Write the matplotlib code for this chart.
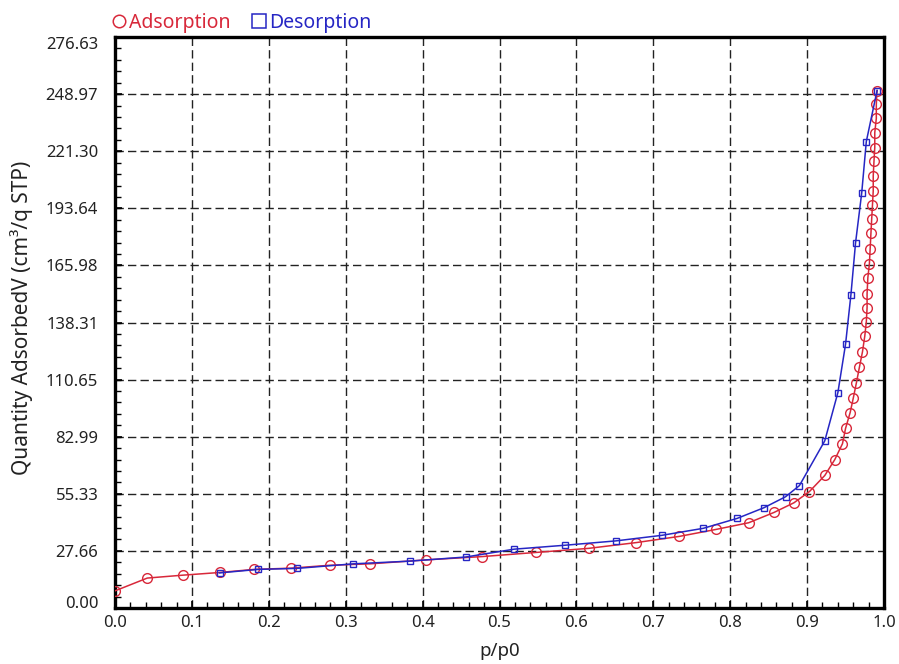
import matplotlib
matplotlib.use("Agg")
import matplotlib.pyplot as plt
from matplotlib.lines import Line2D
from matplotlib.ticker import MultipleLocator, AutoMinorLocator

plt.rcParams['font.family'] = ['Noto Sans', 'DejaVu Sans']

# ---- data ----
ads_x = [0.0, 0.042, 0.088, 0.136, 0.181, 0.229, 0.279, 0.332, 0.404, 0.477,
         0.547, 0.616, 0.678, 0.734, 0.782, 0.824, 0.857, 0.883, 0.903, 0.923,
         0.936, 0.946, 0.950, 0.956, 0.960, 0.964, 0.968, 0.972, 0.975, 0.977,
         0.978, 0.978, 0.979, 0.981, 0.982, 0.983, 0.984, 0.985, 0.986, 0.986,
         0.987, 0.988, 0.988, 0.990, 0.990, 0.991]
ads_v = [8.3, 14.5, 15.9, 17.2, 18.7, 19.3, 20.7, 21.4, 23.3, 24.9,
         26.9, 28.9, 31.7, 34.7, 38.1, 41.3, 46.3, 51.0, 56.4, 64.2,
         71.9, 79.6, 87.0, 94.7, 101.6, 108.9, 116.6, 124.1, 131.7, 138.6,
         145.5, 152.3, 160.0, 166.8, 174.0, 181.5, 188.5, 195.2, 202.1, 209.4,
         216.6, 223.0, 230.3, 237.2, 244.0, 250.7]

des_x = [0.991, 0.977, 0.971, 0.963, 0.957, 0.950, 0.940, 0.923, 0.890, 0.872,
         0.844, 0.809, 0.765, 0.711, 0.651, 0.585, 0.519, 0.456, 0.383, 0.310,
         0.237, 0.186, 0.136]
des_v = [250.7, 226.0, 201.0, 176.9, 151.8, 127.8, 104.3, 81.0, 59.3, 53.9,
         48.6, 43.4, 38.6, 35.2, 32.5, 30.4, 28.5, 24.7, 22.7, 21.4,
         19.2, 18.7, 17.0]

y_tick_labels = ['0.00', '27.66', '55.33', '82.99', '110.65', '138.31',
                 '165.98', '193.64', '221.30', '248.97', '276.63']
x_tick_labels = ['0.0', '0.1', '0.2', '0.3', '0.4', '0.5', '0.6', '0.7',
                 '0.8', '0.9', '1.0']
series_names = ['Adsorption', 'Desorption']

RED = '#d8283a'
BLUE = '#2626c4'
TXT = '#222222'

fig = plt.figure(figsize=(8.99, 6.64), dpi=100)
ax = fig.add_axes([115 / 899, 1 - 608 / 664, (884 - 115) / 899, (608 - 37) / 664])

ax.plot(ads_x, ads_v, color=RED, lw=1.1, marker='o', ms=7, mfc='none',
        mec=RED, mew=1.0, zorder=3)
ax.plot(des_x, des_v, color=BLUE, lw=1.1, marker='s', ms=4.5, mfc='none',
        mec=BLUE, mew=1.0, zorder=4)

yt = [float(s) for s in y_tick_labels]
xt = [float(s) for s in x_tick_labels]
ax.set_xlim(0, 1.0)
ax.set_ylim(0, yt[-1])
ax.set_xticks(xt)
ax.set_xticklabels(x_tick_labels)
ax.set_yticks(yt)
ax.set_yticklabels(y_tick_labels)
ax.xaxis.set_minor_locator(MultipleLocator(0.02))
ax.yaxis.set_minor_locator(AutoMinorLocator(5))

ax.tick_params(axis='both', which='both', direction='in', top=False, right=False,
               labelsize=12, labelcolor=TXT, color='black')
ax.tick_params(axis='both', which='major', length=5, width=1.2)
ax.tick_params(axis='both', which='minor', length=4, width=1.0)
ax.tick_params(axis='y', pad=12)
ax.tick_params(axis='x', pad=5)

ylabels = ax.get_yticklabels()
ylabels[0].set_va('baseline')
ylabels[-1].set_va('top')

for sp in ax.spines.values():
    sp.set_linewidth(2.4)
    sp.set_color('black')

ax.grid(True, which='major', color=TXT, lw=1.0, ls=(0, (6, 3)))
ax.set_axisbelow(True)

ax.set_xlabel('p/p0', fontsize=13.5, color=TXT, va='center')
ax.xaxis.set_label_coords(0.5, -0.075)
ax.set_ylabel('Quantity AdsorbedV (cm³/q STP)', fontsize=15, color=TXT, va='center')
ax.yaxis.set_label_coords(-0.121, 0.508)

handles = [
    Line2D([], [], ls='none', marker='o', ms=9, mfc='none', mec=RED, mew=1.1),
    Line2D([], [], ls='none', marker='s', ms=9.5, mfc='none', mec=BLUE, mew=1.1),
]
leg = fig.legend(handles, series_names, loc='center left',
                 bbox_to_anchor=(113 / 899, 1 - 23 / 664),
                 ncol=2, frameon=False, borderaxespad=0, handlelength=0.6,
                 handletextpad=0.2, columnspacing=1.2, fontsize=14,
                 borderpad=0.0)
for txt, c in zip(leg.get_texts(), [RED, BLUE]):
    txt.set_color(c)

fig.savefig('out.png', dpi=100)
